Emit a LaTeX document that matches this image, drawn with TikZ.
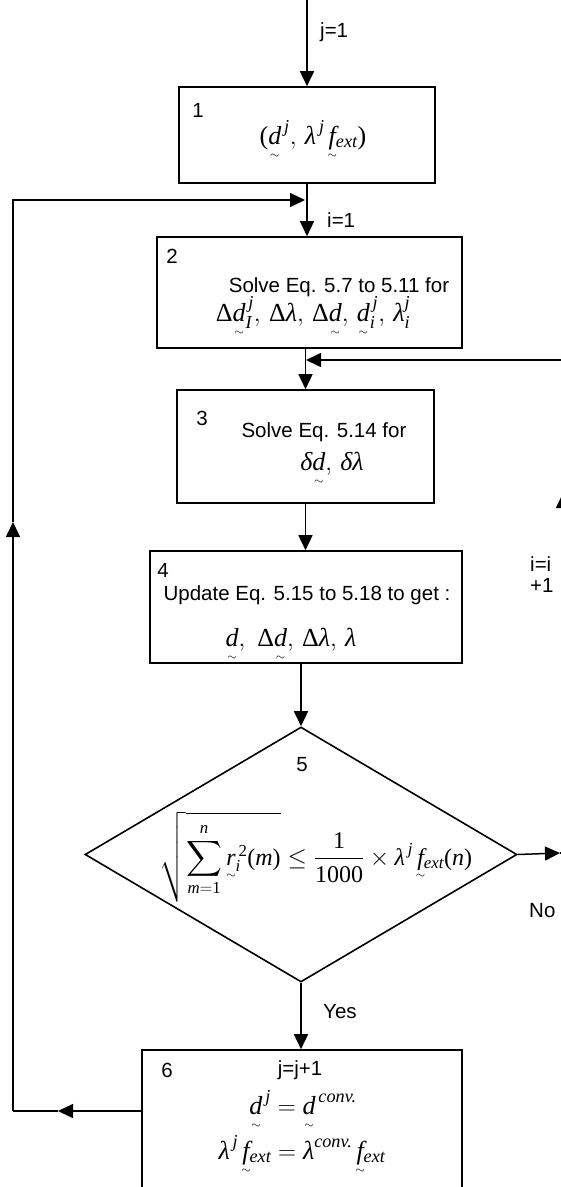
\documentclass[tikz,border=0pt]{standalone}
\usepackage{amsmath}
\usepackage{fontspec}
\newfontfamily\labelfont{Liberation Sans}
\newfontfamily\serif{Liberation Serif}
\usetikzlibrary{arrows.meta,shapes.geometric}
% Times-like letters inside formulas
\newcommand{\mv}[1]{\text{\serif\itshape #1}}
\newcommand{\mr}[1]{\text{\serif #1}}
% vector with a small tilde underneath (kept out of the depth, so scripts sit normally)
\newcommand{\ut}[1]{\mbox{\ooalign{$#1$\cr\hidewidth\smash{\raisebox{-0.55em}{$\scriptscriptstyle\sim$}}\hidewidth\cr}}}

\begin{document}
\begin{tikzpicture}[x=1pt,y=-1pt,
  flow/.style={line width=1.5pt},
  arr/.style={flow,-{Triangle[length=15pt,width=14pt]}},
  box/.style={draw,line width=1.6pt,inner sep=0pt},
  txt/.style={font=\labelfont\fontsize{20.5}{21}\selectfont,inner sep=0pt},
  eq/.style={font=\fontsize{26}{30}\selectfont,inner sep=0pt,anchor=base}]
\useasboundingbox (0,0) rectangle (561,1187);

% process boxes
\node[box,minimum width=256pt,minimum height=96pt]  (b1) at (307,135) {};
\node[box,minimum width=305pt,minimum height=111pt] (b2) at (309.5,292.5) {};
\node[box,minimum width=257pt,minimum height=113pt] (b3) at (305.5,446.5) {};
\node[box,minimum width=312pt,minimum height=112pt] (b4) at (306,607) {};
\node[box,diamond,minimum width=432pt,minimum height=255pt] (d5) at (301,854.5) {};
\node[box,minimum width=320pt,minimum height=140pt] (b6) at (302,1120) {};

% box contents
\node[txt] (n1) at (198,110) {1};
\node[eq]  (e1) at (313,144) {$\mr{(}\ut{\mv{d}}^{\,\mv{j}},\, \mv{λ}^{\,\mv{j}}\,\ut{\mv{f}}_{\mv{ext}}\mr{)}$};

\node[txt] (n2) at (172,256) {2};
\node[txt,anchor=base] (t2) at (339,292) {Solve Eq. 5.7 to 5.11 for};
\node[eq]  (e2) at (313,321) {$\mr{Δ}\ut{\mv{d}}_{\mv{I}}^{\,\mv{j}},\, \mr{Δ}\mv{λ},\, \mr{Δ}\ut{\mv{d}},\, \ut{\mv{d}}_{\mv{i}}^{\,\mv{j}},\, \mv{λ}_{\mv{i}}^{\mv{j}}$};

\node[txt] (n3) at (202,418) {3};
\node[txt,anchor=base] (t3) at (324,437) {Solve Eq. 5.14 for};
\node[eq]  (e3) at (332,470) {$\mv{δ}\ut{\mv{d}},\, \mv{δ}\mv{λ}$};

\node[txt] (n4) at (163,570) {4};
\node[txt,anchor=base] (t4) at (307,600) {Update Eq. 5.15 to 5.18 to get :};
\node[eq]  (e4) at (291,646) {$\ut{\mv{d}},\ \mr{Δ}\ut{\mv{d}},\, \mr{Δ}\mv{λ},\, \mv{λ}$};

\node[txt] (n5) at (302,765) {5};
\node[eq,font=\fontsize{24}{28}\selectfont]  (e5) at (316,865) {$\displaystyle\sqrt{\sum_{\mv{m}=\mr{1}}^{\mv{n}}\ut{\mv{r}}_{\mv{i}}^{\,\mr{2}}\mr{(}\mv{m}\mr{)}} \le \frac{\mr{1}}{\mr{1000}}\times\mv{λ}^{\,\mv{j}}\,\ut{\mv{f}}_{\mv{ext}}\mr{(}\mv{n}\mr{)}$};

\node[txt] (n6) at (167,1070) {6};
\node[txt,anchor=base] (t6) at (300,1075) {j=j+1};
\node[eq]  (e6a) at (303,1114) {$\ut{\mv{d}}^{\,\mv{j}} = \ut{\mv{d}}^{\,\mv{conv.}}$};
\node[eq]  (e6b) at (302,1159) {$\mv{λ}^{\,\mv{j}}\,\ut{\mv{f}}_{\mv{ext}} = \mv{λ}^{\mv{conv.}}\,\ut{\mv{f}}_{\mv{ext}}$};

% connector labels
\node[txt,anchor=west] (lj1) at (320,32) {j=1};
\node[txt,anchor=west] (li1) at (327,220) {i=1};
\node[txt,anchor=west,align=left] (linc) at (530,575) {i=i\\+1};
\node[txt,anchor=west] (lno) at (529,911) {No};
\node[txt,anchor=west] (lyes) at (323,1012) {Yes};

% main flow
\coordinate (start) at (307,0);
\draw[arr] (start) -- (b1.north);
\draw[arr] (b1.south) -- (b1.south |- b2.north);
\draw[arr] (b3.north |- b2.south) -- (b3.north);
\draw[arr] (b3.south) -- (b3.south |- b4.north);
\draw[arr] (b4.south -| d5.north) -- (d5.north);
\draw[arr] (d5.south) -- (d5.south |- b6.north);

% outer loop: j = j+1
\coordinate (la) at (58,1111);
\coordinate (lc) at (13,1111);
\coordinate (lb) at (13,522);
\coordinate (ld) at (13,200);
\coordinate (lj) at (305,200);
\draw[arr] (la -| b6.west) -- (la);
\draw[flow] (la) -- (lc);
\draw[arr] (lc) -- (lb);
\draw[arr] (lb) -- (ld) -- (lj);

% inner loop: i = i+1
\coordinate (ra) at (560,853);
\coordinate (rc) at (563,853);
\coordinate (rb) at (563,493);
\coordinate (rd) at (563,360);
\coordinate (ri) at (306,360);
\draw[arr] (d5.east) -- (ra);
\draw[flow] (ra) -- (rc);
\draw[arr] (rc) -- (rb);
\draw[arr] (rb) -- (rd) -- (ri);
\end{tikzpicture}
\end{document}
